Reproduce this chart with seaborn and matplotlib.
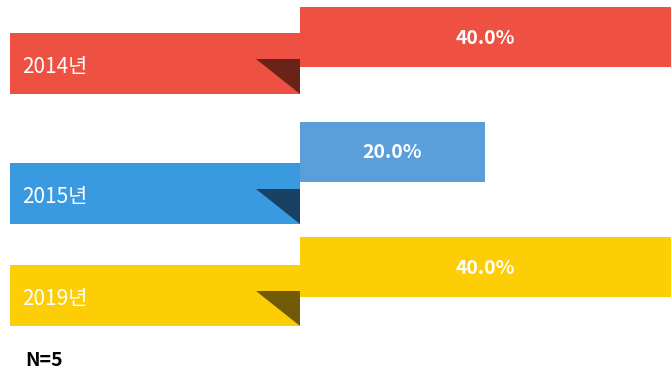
import matplotlib
matplotlib.use("Agg")
import matplotlib.pyplot as plt
import seaborn as sns
import pandas as pd

# Data
years = ["2014년", "2015년", "2019년"]
shares = [40.0, 20.0, 40.0]
sample_note = "N=5"

# Styles
bar_colors = ["#EE5142", "#5A9EDA", "#FDCD05"]
band_colors = ["#EE5142", "#3A9AE0", "#FDCD05"]
fold_colors = ["#6B2319", "#194164", "#705A05"]

sns.set_theme(style="white")
plt.rcParams["font.family"] = ["Noto Sans CJK KR", "DejaVu Sans"]

W, H = 672, 373
fig = plt.figure(figsize=(W / 100, H / 100), dpi=100)
ax = fig.add_axes([0, 0, 1, 1])

# layout helpers: horizontal pixels per percent, vertical pixels per row
px_per_pct = 9.28
x0_px = 299.5
row_px = 115.0
first_center_px = 37.0
bar_h_px = 60.0

def xpx(p):
    return (p - x0_px) / px_per_pct

df = pd.DataFrame({"year": years, "share": shares})
sns.barplot(data=df, x="share", y="year", hue="year", palette=bar_colors,
            orient="h", width=bar_h_px / row_px, linewidth=0, legend=False,
            saturation=1, ax=ax)

# ribbon bands with folded corner on the left side
band_shift_px = [26, 41, 28]
band_h = 61.0 / row_px
fold_h = 35.0 / row_px
band_left = xpx(10)
fold_left = xpx(256)
for i, year in enumerate(years):
    bar_top = i - bar_h_px / row_px / 2
    top = bar_top + band_shift_px[i] / row_px
    bottom = top + band_h
    ax.barh(y=(top + bottom) / 2, width=0 - band_left, left=band_left,
            height=band_h, color=band_colors[i], linewidth=0, zorder=1)
    ax.fill([fold_left, 0, 0], [bottom - fold_h, bottom - fold_h, bottom],
            color=fold_colors[i], linewidth=0, zorder=3)
    ax.text(xpx(22), (top + bottom) / 2 + 3 / row_px, year, color="white",
            fontsize=15, fontweight="medium", va="center", ha="left", zorder=4)
    ax.text(shares[i] / 2, i + 1 / row_px, f"{shares[i]:.1f}%", color="white",
            fontsize=14, fontweight="semibold", va="center", ha="center", zorder=4)

# bring value bars above bands
for patch in ax.patches[:len(years)]:
    patch.set_zorder(2)

ax.text(xpx(25), (361 - first_center_px) / row_px, sample_note, color="black",
        fontsize=14, fontweight="bold", va="center", ha="left")

ax.set_xlim(xpx(0), xpx(W))
ax.set_ylim((H - first_center_px) / row_px, -first_center_px / row_px)
ax.axis("off")

fig.savefig("out.png", dpi=100)
